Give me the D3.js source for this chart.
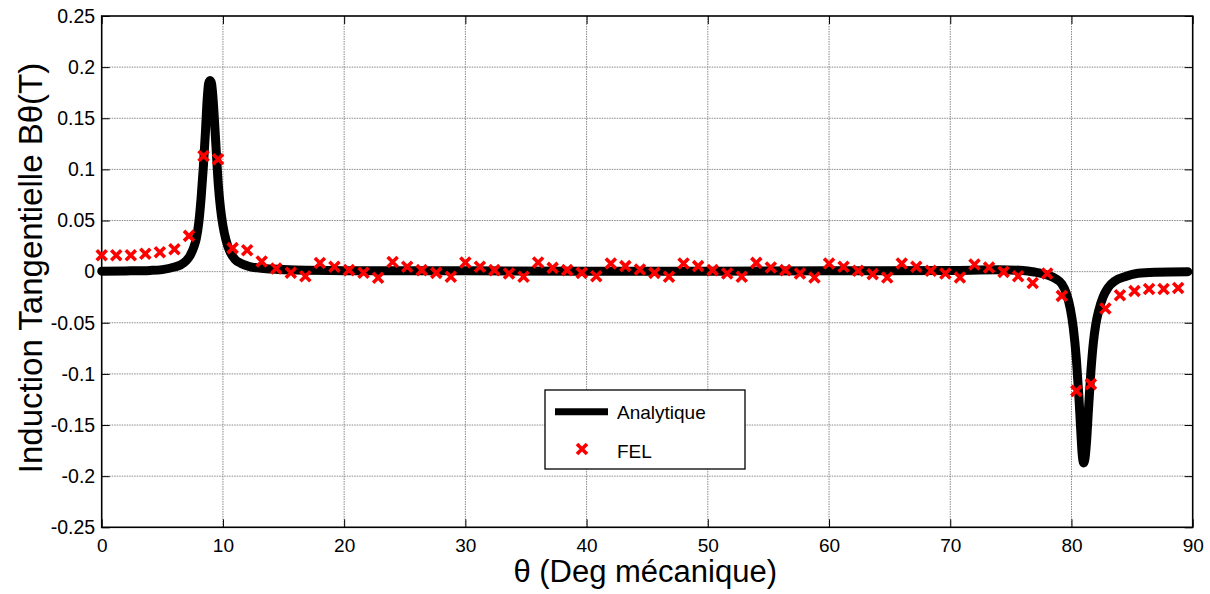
<!DOCTYPE html>
<html><head><meta charset="utf-8">
<script src="https://cdn.jsdelivr.net/npm/d3@7"></script>
<style>body{margin:0;background:#fff;} text{font-family:"Liberation Sans",Arial,sans-serif;}</style>
</head><body><svg id="c" width="1210" height="594"></svg>
<script>
const xTicks = [0,10,20,30,40,50,60,70,80,90];
const yTicks = [-0.25,-0.2,-0.15,-0.1,-0.05,0,0.05,0.1,0.15,0.2,0.25];
const yTickLabels = ["-0.25","-0.2","-0.15","-0.1","-0.05","0","0.05","0.1","0.15","0.2","0.25"];

const analyticTheta = [0,2,4,5,6,6.5,7,7.3,7.6,7.8,8.0,8.2,8.4,8.55,8.7,8.82,8.94,9.06,9.18,9.3,9.45,9.62,9.8,10.0,10.25,10.6,11.0,11.5,12.2,13,14,16,20,30,40,50,60,70,74,76,77,77.6,78.2,78.7,79.2,79.6,79.9,80.15,80.4,80.6,80.75,80.88,81.0,81.12,81.25,81.4,81.6,81.8,82.0,82.25,82.6,83.0,83.6,84.4,85.5,87,89.6];
const analyticB = [0.0005,0.0007,0.0012,0.002,0.0045,0.0065,0.011,0.016,0.024,0.032,0.047,0.072,0.105,0.135,0.168,0.184,0.187,0.184,0.170,0.148,0.118,0.085,0.062,0.045,0.031,0.019,0.012,0.008,0.005,0.0035,0.0025,0.0015,0.001,0.0008,0.0005,0.0005,0.0008,0.0012,0.0018,0.0012,-0.0005,-0.002,-0.004,-0.007,-0.012,-0.022,-0.036,-0.055,-0.085,-0.12,-0.152,-0.178,-0.187,-0.182,-0.165,-0.135,-0.098,-0.07,-0.052,-0.038,-0.025,-0.016,-0.009,-0.005,-0.0015,-0.0005,0];

const felTheta = [0,1.2,2.4,3.6,4.8,6.0,7.2,8.4,9.6,10.8,12.0,13.2,14.4,15.6,16.8,18.0,19.2,20.4,21.6,22.8,24.0,25.2,26.4,27.6,28.8,30.0,31.2,32.4,33.6,34.8,36.0,37.2,38.4,39.6,40.8,42.0,43.2,44.4,45.6,46.8,48.0,49.2,50.4,51.6,52.8,54.0,55.2,56.4,57.6,58.8,60.0,61.2,62.4,63.6,64.8,66.0,67.2,68.4,69.6,70.8,72.0,73.2,74.4,75.6,76.8,78.0,79.2,80.4,81.6,82.8,84.0,85.2,86.4,87.6,88.8];
const felB = [0.016,0.016,0.016,0.0175,0.019,0.022,0.035,0.113,0.110,0.023,0.021,0.010,0.003,-0.001,-0.0045,0.0085,0.0047,0.0015,-0.001,-0.006,0.0095,0.0047,0.0015,-0.0012,-0.005,0.009,0.0047,0.0015,-0.0018,-0.005,0.009,0.0037,0.0015,-0.0012,-0.0044,0.008,0.0054,0.0021,-0.0012,-0.005,0.008,0.0054,0.0015,-0.0018,-0.005,0.0086,0.0041,0.0015,-0.0018,-0.0057,0.008,0.0047,0.0008,-0.0024,-0.0057,0.008,0.0047,0.0008,-0.0018,-0.0057,0.007,0.0041,-0.0002,-0.0044,-0.011,-0.0018,-0.0237,-0.1166,-0.110,-0.036,-0.023,-0.019,-0.017,-0.017,-0.016];

const seriesNames = ["Analytique","FEL"];
const xLabel = "θ (Deg mécanique)";
const yLabel = "Induction Tangentielle Bθ(T)";

const svg = d3.select("#c");
const L = 101.7, R = 1192.7, T = 16, B = 527.3;
const x = d3.scaleLinear().domain([0,90]).range([L,R]);
const y = d3.scaleLinear().domain([-0.25,0.25]).range([B,T]);

// grid
const g = svg.append("g");
g.selectAll("line.vx").data(xTicks.slice(1,-1)).enter().append("line")
  .attr("x1",d=>x(d)).attr("x2",d=>x(d)).attr("y1",T).attr("y2",B)
  .attr("stroke","#8a8a8a").attr("stroke-width",1).attr("stroke-dasharray","1.5,1");
g.selectAll("line.hy").data(yTicks.slice(1,-1)).enter().append("line")
  .attr("y1",d=>y(d)).attr("y2",d=>y(d)).attr("x1",L).attr("x2",R)
  .attr("stroke","#8a8a8a").attr("stroke-width",1).attr("stroke-dasharray","1.5,1");

// axes with inward ticks
const axB = d3.axisBottom(x).tickValues(xTicks).tickSize(-8).tickPadding(11).tickFormat(d=>d);
const axL = d3.axisLeft(y).tickValues(yTicks).tickSize(-8).tickPadding(6.5).tickFormat((d,i)=>yTickLabels[i]);
const axT = d3.axisTop(x).tickValues(xTicks).tickSize(-8).tickFormat("");
const axR = d3.axisRight(y).tickValues(yTicks).tickSize(-8).tickFormat("");
const gb = svg.append("g").attr("transform",`translate(0,${B})`).call(axB);
const gl = svg.append("g").attr("transform",`translate(${L},0)`).call(axL);
svg.append("g").attr("transform",`translate(0,${T})`).call(axT);
svg.append("g").attr("transform",`translate(${R},0)`).call(axR);
svg.selectAll(".domain").remove();
svg.selectAll(".tick line").attr("stroke","#000").attr("stroke-width",1);
gb.selectAll("text").attr("font-size",19).attr("fill","#000").attr("font-family","Liberation Sans");
gl.selectAll("text").attr("font-size",19.5).attr("fill","#000").attr("font-family","Liberation Sans");
svg.append("rect").attr("x",L).attr("y",T).attr("width",R-L).attr("height",B-T)
  .attr("fill","none").attr("stroke","#000").attr("stroke-width",1.6);

// analytic line
const lineData = analyticTheta.map((t,i)=>[t,analyticB[i]]);
const line = d3.line().x(d=>x(d[0])).y(d=>y(d[1])).curve(d3.curveMonotoneX);
svg.append("path").datum(lineData).attr("d",line).attr("fill","none")
  .attr("stroke","#000").attr("stroke-width",9).attr("stroke-linejoin","round").attr("stroke-linecap","round");

// FEL markers
const cross = "M-5,-5L5,5M5,-5L-5,5";
svg.selectAll("path.fel").data(felTheta.map((t,i)=>[t,felB[i]])).enter().append("path")
  .attr("d",cross).attr("transform",d=>`translate(${x(d[0])},${y(d[1])})`)
  .attr("stroke","#ff0000").attr("stroke-width",3.6).attr("fill","none");

// labels
svg.append("text").attr("x",(L+R)/2-2).attr("y",582).attr("text-anchor","middle")
  .attr("font-size",31).text(xLabel);
svg.append("text").attr("transform",`translate(42,268) rotate(-90)`).attr("text-anchor","middle")
  .attr("font-size",33).text(yLabel);

// legend
const lg = svg.append("g");
lg.append("rect").attr("x",545).attr("y",390).attr("width",200).attr("height",79)
  .attr("fill","#fff").attr("stroke","#000").attr("stroke-width",1.3);
lg.append("line").attr("x1",555).attr("x2",608).attr("y1",411.7).attr("y2",411.7)
  .attr("stroke","#000").attr("stroke-width",7);
lg.append("path").attr("d",cross).attr("transform","translate(582,449)")
  .attr("stroke","#ff0000").attr("stroke-width",3.6).attr("fill","none");
lg.append("text").attr("x",617).attr("y",419).attr("font-size",19).text(seriesNames[0]);
lg.append("text").attr("x",617).attr("y",457.5).attr("font-size",19).text(seriesNames[1]);
</script></body></html>
